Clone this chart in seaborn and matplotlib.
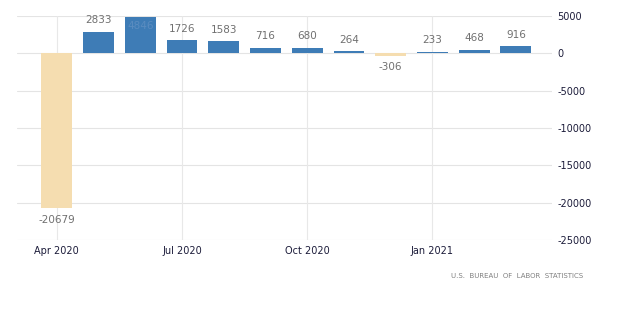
import matplotlib
matplotlib.use("Agg")
import matplotlib.pyplot as plt
import seaborn as sns
import pandas as pd

months = ["Apr 2020", "May 2020", "Jun 2020", "Jul 2020", "Aug 2020", "Sep 2020",
          "Oct 2020", "Nov 2020", "Dec 2020", "Jan 2021", "Feb 2021", "Mar 2021"]
values = [-20679, 2833, 4846, 1726, 1583, 716, 680, 264, -306, 233, 468, 916]
tick_months = ["Apr 2020", "Jul 2020", "Oct 2020", "Jan 2021"]
yticks = [5000, 0, -5000, -10000, -15000, -20000, -25000]
source = "U.S.  BUREAU  OF  LABOR  STATISTICS"

pos_color = "#3E7CB6"
neg_color = "#F5DDB0"
colors = [pos_color if v >= 0 else neg_color for v in values]

sns.set_theme(style="white")
plt.rcParams['font.family'] = ['DejaVu Sans']

df = pd.DataFrame({"month": months, "value": values})

fig = plt.figure(figsize=(6.2, 3.18), dpi=100)
ax = fig.add_axes([0.027, 0.245, 0.863, 0.705])

sns.barplot(data=df, x="month", y="value", hue="month", palette=colors,
            legend=False, width=0.74, saturation=1, ax=ax, zorder=2,
            linewidth=0, edgecolor="none")

ax.set_ylim(-25000, 5000)
ax.set_xlim(-0.96, 11.86)

# grid
for yv in yticks:
    ax.axhline(yv, color="#e4e4e4", lw=0.8, zorder=0)
tick_pos = [months.index(m) for m in tick_months]
for xp in tick_pos:
    ax.axvline(xp, color="#e8e8e8", lw=0.8, zorder=0)

ax.set_xticks(tick_pos)
ax.set_xticklabels(tick_months, fontsize=7, color="#1c1c3a")
ax.set_yticks(yticks)
ax.set_yticklabels([str(v) for v in yticks], fontsize=7, color="#1c1c3a")
ax.yaxis.tick_right()
ax.tick_params(axis="y", length=0, pad=4)
ax.tick_params(axis="x", length=0, pad=4)
ax.set_xlabel("")
ax.set_ylabel("")
for s in ax.spines.values():
    s.set_visible(False)

# data labels
for i, v in enumerate(values):
    if i == values.index(4846):
        ax.text(i, v - 500, str(v), ha="center", va="top", fontsize=7.5,
                color="#5a8cc0", zorder=3)
    elif v >= 0:
        ax.text(i, v + 900, str(v), ha="center", va="bottom", fontsize=7.5,
                color="#707070", zorder=3)
    else:
        ax.text(i, v - 900, str(v), ha="center", va="top", fontsize=7.5,
                color="#707070", zorder=3)

fig.text(0.94, 0.132, source, ha="right", va="center", fontsize=5, color="#808080")

fig.savefig("out.png", dpi=100)
